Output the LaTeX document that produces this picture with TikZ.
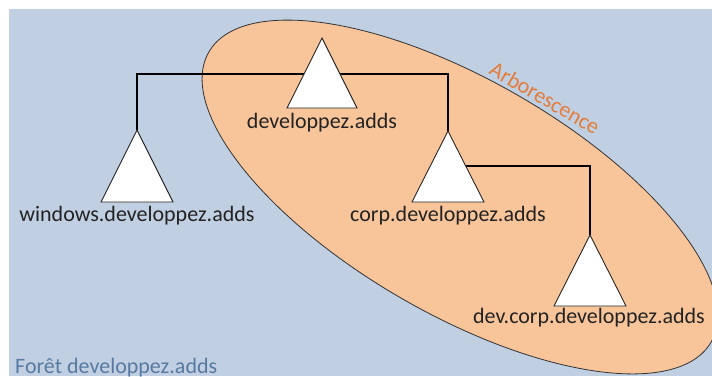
\documentclass[tikz,border=0pt]{standalone}
\usepackage{fontspec}
\setmainfont{Carlito}
\definecolor{bgblue}{RGB}{192,207,225}
\definecolor{peach}{RGB}{248,197,155}
\definecolor{orangetxt}{RGB}{228,124,58}
\definecolor{foret}{RGB}{88,122,162}
\definecolor{txt}{RGB}{35,35,35}
\begin{document}
\begin{tikzpicture}[x=1pt,y=-1pt,
  tri/.style={draw=black!85,line width=0.9pt,fill=white,line join=miter},
  conn/.style={draw=black,line width=1.1pt},
  lbl/.style={font=\fontsize{22}{26}\selectfont,text=txt,inner sep=0pt}]
\useasboundingbox (0,0) rectangle (712,376);
\fill[white] (0,0) rectangle (712,376);
\fill[bgblue] (9,9) rectangle (712,376);
% tree area
\begin{scope}
\clip (9,9) rectangle (712,376);
\draw[fill=peach,draw=black!80,line width=0.8pt,rotate around={-30:(460,197)}] (460,197) ellipse [x radius=290,y radius=117];
\end{scope}
\node[font=\fontsize{22}{26}\selectfont,text=orangetxt,rotate=-30,inner sep=0pt] (arb) at (545,98) {Arborescence};
\node[font=\fontsize{22}{26}\selectfont,text=foret,anchor=base west,inner sep=0pt] (foret) at (15,373) {Forêt developpez.adds};
% apex coordinates
\coordinate (rootA) at (322,38);
\coordinate (winA) at (137,130);
\coordinate (corpA) at (448,131);
\coordinate (devA) at (590,235);
\coordinate (j1) at (322,74);
\coordinate (j2) at (448,166);
% connectors
\draw[conn] (winA) |- (j1) -| (corpA);
\draw[conn] (j2) -| (devA);
% triangles
\draw[tri] (rootA) -- ++(35,70) -- ++(-70,0) -- cycle;
\draw[tri] (winA) -- ++(36,72) -- ++(-72,0) -- cycle;
\draw[tri] (corpA) -- ++(36,71) -- ++(-72,0) -- cycle;
\draw[tri] (devA) -- ++(36,71) -- ++(-72,0) -- cycle;
% labels
\node[lbl,anchor=base] (rootL) at (322,128) {developpez.adds};
\node[lbl,anchor=base] (winL) at (137,221) {windows.developpez.adds};
\node[lbl,anchor=base] (corpL) at (448,221) {corp.developpez.adds};
\node[lbl,anchor=base] (devL) at (589,323) {dev.corp.developpez.adds};
\end{tikzpicture}
\end{document}
